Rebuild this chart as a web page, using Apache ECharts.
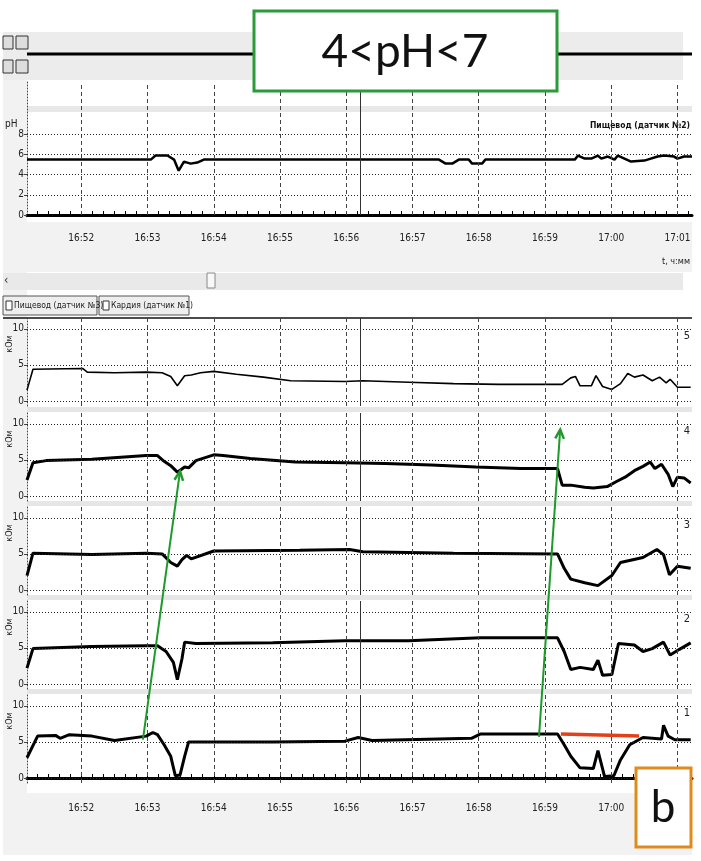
<!DOCTYPE html>
<html>
<head>
<meta charset="utf-8">
<script src="https://cdn.jsdelivr.net/npm/echarts@6/dist/echarts.min.js"></script>
<style>
html, body { margin: 0; padding: 0; background: #fff; }
#chart { width: 701px; height: 861px; }
</style>
</head>
<body>
<div id="chart"></div>
<script>
// time axis: minutes after 16:00
var minuteTicks = [52, 53, 54, 55, 56, 57, 58, 59, 60, 61];
var cursorTime = 56.21;

// pH, esophagus sensor 2
var phTime = [51.18, 53.05, 53.12, 53.3, 53.4, 53.47, 53.55, 53.65, 53.75, 53.85, 57.4, 57.5, 57.6, 57.7, 57.85, 57.9, 58.05, 58.1, 59.45, 59.5, 59.6, 59.7, 59.8, 59.85, 59.95, 60.05, 60.1, 60.2, 60.3, 60.5, 60.55, 60.7, 60.8, 60.95, 61.0, 61.1, 61.22];
var phValue = [5.5, 5.5, 5.9, 5.9, 5.5, 4.4, 5.3, 5.1, 5.2, 5.5, 5.5, 5.1, 5.1, 5.5, 5.5, 5.1, 5.1, 5.5, 5.5, 5.9, 5.6, 5.6, 5.9, 5.6, 5.8, 5.5, 5.9, 5.6, 5.3, 5.4, 5.5, 5.8, 5.9, 5.8, 5.6, 5.8, 5.8];

// impedance channels, kOhm (top to bottom: 5, 4, 3, 2, 1)
var ch5Time = [51.18, 51.27, 52.02, 52.09, 52.5, 52.98, 53.22, 53.35, 53.45, 53.56, 53.66, 53.8, 54.0, 54.34, 54.75, 55.16, 55.98, 56.25, 56.94, 57.62, 58.3, 59.26, 59.39, 59.46, 59.53, 59.7, 59.77, 59.87, 60.01, 60.14, 60.25, 60.35, 60.48, 60.62, 60.73, 60.83, 60.89, 61.0, 61.2];
var ch5Value = [1.5, 4.4, 4.5, 4.0, 3.9, 4.0, 3.9, 3.4, 2.1, 3.5, 3.6, 3.9, 4.1, 3.7, 3.3, 2.8, 2.7, 2.8, 2.6, 2.4, 2.3, 2.3, 3.2, 3.4, 2.1, 2.1, 3.5, 2.0, 1.6, 2.4, 3.8, 3.3, 3.6, 2.8, 3.3, 2.5, 3.0, 1.9, 1.9];

var ch4Time = [51.18, 51.27, 51.47, 52.16, 52.98, 53.15, 53.25, 53.35, 53.45, 53.56, 53.62, 53.73, 54.0, 54.14, 54.55, 55.23, 55.98, 56.59, 57.28, 57.96, 58.64, 59.19, 59.26, 59.39, 59.6, 59.73, 59.94, 60.08, 60.21, 60.35, 60.48, 60.59, 60.66, 60.76, 60.86, 60.93, 61.0, 61.1, 61.2];
var ch4Value = [2.2, 4.6, 4.9, 5.1, 5.6, 5.6, 4.8, 4.2, 3.3, 4.0, 3.9, 4.9, 5.7, 5.6, 5.2, 4.7, 4.6, 4.5, 4.3, 4.0, 3.8, 3.8, 1.5, 1.5, 1.2, 1.1, 1.3, 2.0, 2.6, 3.5, 4.1, 4.7, 3.8, 4.4, 3.0, 1.3, 2.6, 2.5, 1.8];

var ch3Time = [51.18, 51.27, 52.16, 52.98, 53.22, 53.35, 53.45, 53.52, 53.59, 53.66, 54.0, 55.3, 56.05, 56.25, 57.62, 59.19, 59.29, 59.39, 59.6, 59.8, 60.01, 60.14, 60.48, 60.69, 60.79, 60.88, 61.0, 61.2];
var ch3Value = [2.0, 5.1, 4.9, 5.1, 5.0, 3.8, 3.3, 4.2, 4.8, 4.3, 5.4, 5.5, 5.6, 5.3, 5.1, 5.0, 3.0, 1.5, 1.0, 0.6, 2.0, 3.8, 4.5, 5.6, 4.9, 2.1, 3.3, 3.0];

var ch2Time = [51.18, 51.27, 52.16, 52.98, 53.15, 53.28, 53.39, 53.45, 53.52, 53.56, 53.73, 54.89, 55.98, 56.94, 58.03, 59.19, 59.29, 59.39, 59.53, 59.73, 59.8, 59.87, 60.01, 60.11, 60.35, 60.48, 60.62, 60.79, 60.89, 61.03, 61.2];
var ch2Value = [2.2, 4.9, 5.2, 5.3, 5.3, 4.5, 3.0, 0.6, 3.5, 5.8, 5.6, 5.7, 6.0, 6.0, 6.4, 6.4, 4.5, 2.0, 2.3, 2.0, 3.3, 1.2, 1.3, 5.6, 5.4, 4.5, 4.9, 5.8, 4.0, 4.8, 5.7];

var ch1Time = [51.18, 51.34, 51.61, 51.68, 51.82, 52.16, 52.5, 52.98, 53.08, 53.15, 53.25, 53.35, 53.42, 53.49, 53.56, 53.62, 54.89, 55.98, 56.18, 56.39, 57.89, 58.03, 59.19, 59.29, 59.39, 59.53, 59.73, 59.8, 59.9, 60.04, 60.14, 60.28, 60.48, 60.76, 60.79, 60.86, 60.96, 61.2];
var ch1Value = [2.8, 5.8, 5.9, 5.5, 6.0, 5.8, 5.2, 5.8, 6.3, 6.0, 4.6, 3.0, 0.3, 0.4, 3.0, 5.0, 5.0, 5.1, 5.6, 5.2, 5.5, 6.1, 6.1, 4.6, 3.0, 1.4, 1.3, 3.8, 0.2, 0.3, 2.5, 4.6, 5.6, 5.4, 7.3, 5.8, 5.3, 5.3];

// reflux baseline marker on channel 1
var baseTime = [59.24, 60.42];
var baseValue = [6.1, 5.8];

var channelNames = ['5', '4', '3', '2', '1'];
var channelTime = [ch5Time, ch4Time, ch3Time, ch2Time, ch1Time];
var channelValue = [ch5Value, ch4Value, ch3Value, ch2Value, ch1Value];
var impTicks = [0, 5, 10];
var phTicks = [0, 2, 4, 6, 8];

function pairs(t, v) {
	var out = [];
	for (var i = 0; i < t.length; i++) out.push([t[i], v[i]]);
	return out;
}
function timeLabel(v) {
	var h = 16 + Math.floor(v / 60), m = Math.round(v % 60);
	return h + ':' + (m < 10 ? '0' + m : m);
}
var fineTicks = [];
for (var s = 51 * 6 + 2; s <= 61 * 6 + 1; s++) fineTicks.push(s / 6);

var FONT = 'DejaVu Sans Condensed, Liberation Sans, sans-serif';
var X0 = 51.18, X1 = 61.22;
var impTop = [318, 413, 507, 601, 695];

var chart = echarts.init(document.getElementById('chart'));
var grids = [], xAxes = [], yAxes = [], series = [];

function gridLines(xi, hlines) {
	var d = [];
	minuteTicks.forEach(function(m) { d.push({ xAxis: m }); });
	hlines.forEach(function(v) { d.push({ yAxis: v, lineStyle: { type: [1, 2], color: '#222' } }); });
	d.push({ xAxis: cursorTime, lineStyle: { type: 'solid', color: '#333', width: 1 } });
	return {
		type: 'line', xAxisIndex: xi, yAxisIndex: xi, data: [], silent: true,
		markLine: { symbol: 'none', silent: true, animation: false, label: { show: false },
			lineStyle: { type: [4, 3], color: '#444', width: 1 }, data: d }
	};
}

// pH grid
grids.push({ left: 27, right: 9, top: 82, height: 133 });
xAxes.push({ gridIndex: 0, type: 'value', min: X0, max: X1, offset: 6,
	axisLine: { lineStyle: { color: '#000', width: 3 } },
	axisTick: { inside: true, length: 4, customValues: fineTicks, lineStyle: { color: '#000' } },
	axisLabel: { customValues: minuteTicks, formatter: timeLabel, margin: 12, color: '#222', fontSize: 10, fontFamily: FONT },
	splitLine: { show: false } });
yAxes.push({ gridIndex: 0, type: 'value', min: 0, max: 13.2,
	axisLine: { show: true, lineStyle: { type: [1, 2], color: '#444' } },
	axisTick: { show: true, customValues: phTicks, length: 3 },
	axisLabel: { customValues: phTicks, color: '#222', fontSize: 10, fontFamily: FONT, margin: 3 },
	splitLine: { show: false } });
series.push(gridLines(0, [2, 4, 6, 8]));
series.push({ type: 'line', xAxisIndex: 0, yAxisIndex: 0, data: pairs(phTime, phValue), symbol: 'none',
	lineStyle: { color: '#000', width: 2.5 }, animation: false });

// impedance grids
for (var k = 0; k < 5; k++) {
	var gi = k + 1;
	grids.push({ left: 27, right: 9, top: impTop[k], height: 88 });
	xAxes.push({ gridIndex: gi, type: 'value', min: X0, max: X1, offset: 8,
		axisLine: { show: k === 4, lineStyle: { color: '#000', width: 3 } },
		axisTick: { show: k === 4, inside: true, length: 4, customValues: fineTicks, lineStyle: { color: '#000' } },
		axisLabel: { show: k === 4, customValues: minuteTicks, formatter: timeLabel, margin: 12, color: '#222', fontSize: 10, fontFamily: FONT },
		splitLine: { show: false } });
	yAxes.push({ gridIndex: gi, type: 'value', min: -0.7, max: 11.5,
		axisLine: { show: true, lineStyle: { type: [1, 2], color: '#444' } },
		axisTick: { show: true, customValues: impTicks, length: 3 },
		axisLabel: { customValues: impTicks, color: '#222', fontSize: 10, fontFamily: FONT, margin: 3 },
		splitLine: { show: false } });
	series.push(gridLines(gi, [0, 5, 10]));
	series.push({ type: 'line', xAxisIndex: gi, yAxisIndex: gi, data: pairs(channelTime[k], channelValue[k]), symbol: 'none',
		lineStyle: { color: '#000', width: k === 0 ? 1.6 : 3 }, animation: false });
}
series.push({ type: 'line', xAxisIndex: 5, yAxisIndex: 5, data: pairs(baseTime, baseValue), symbol: 'none',
	lineStyle: { color: '#e0401a', width: 3.5 }, z: 5, animation: false });

var graphics = [
	// grey frame areas
	{ type: 'rect', z: -1, shape: { x: 3, y: 32, width: 680, height: 48 }, style: { fill: '#ececec' } },
	{ type: 'rect', z: -1, shape: { x: 3, y: 106, width: 689, height: 6 }, style: { fill: '#e8e8e8' } },
	{ type: 'rect', z: -1, shape: { x: 3, y: 80, width: 24, height: 720 }, style: { fill: '#f2f2f2' } },
	{ type: 'rect', z: -1, shape: { x: 3, y: 222, width: 689, height: 50 }, style: { fill: '#f2f2f2' } },
	{ type: 'rect', z: -1, shape: { x: 3, y: 793, width: 689, height: 62 }, style: { fill: '#f2f2f2' } },
	{ type: 'line', z: 1, shape: { x1: 27, y1: 54, x2: 692, y2: 54 }, style: { stroke: '#000', lineWidth: 3 } },
	// toolbar buttons
	{ type: 'rect', shape: { x: 3, y: 36, width: 10, height: 13 }, style: { fill: '#ddd', stroke: '#333' } },
	{ type: 'rect', shape: { x: 16, y: 36, width: 12, height: 13 }, style: { fill: '#ddd', stroke: '#333' } },
	{ type: 'rect', shape: { x: 3, y: 60, width: 10, height: 13 }, style: { fill: '#ddd', stroke: '#333' } },
	{ type: 'rect', shape: { x: 16, y: 60, width: 12, height: 13 }, style: { fill: '#ddd', stroke: '#333' } },
	// scrollbar
	{ type: 'rect', shape: { x: 3, y: 273, width: 680, height: 17 }, style: { fill: '#e9e9e9' } },
	{ type: 'rect', shape: { x: 207, y: 273, width: 8, height: 15 }, style: { fill: '#f8f8f8', stroke: '#888' } },
	{ type: 'text', style: { x: 4, y: 281, text: '‹', font: '12px ' + FONT, fill: '#333', verticalAlign: 'middle' } },
	// sensor tabs
	{ type: 'rect', shape: { x: 3, y: 296, width: 94, height: 19 }, style: { fill: '#eee', stroke: '#555' } },
	{ type: 'rect', shape: { x: 99, y: 296, width: 90, height: 19 }, style: { fill: '#eee', stroke: '#555' } },
	{ type: 'rect', shape: { x: 6, y: 301, width: 6, height: 9 }, style: { fill: '#fff', stroke: '#333' } },
	{ type: 'rect', shape: { x: 103, y: 301, width: 6, height: 9 }, style: { fill: '#fff', stroke: '#333' } },
	{ type: 'text', style: { x: 14, y: 306, text: 'Пищевод (датчик №3)', font: '8.5px ' + FONT, fill: '#222', verticalAlign: 'middle' } },
	{ type: 'text', style: { x: 111, y: 306, text: 'Кардия (датчик №1)', font: '8.5px ' + FONT, fill: '#222', verticalAlign: 'middle' } },
	{ type: 'line', shape: { x1: 3, y1: 318, x2: 692, y2: 318 }, style: { stroke: '#111', lineWidth: 1.5 } },
	// pH texts
	{ type: 'text', style: { x: 5, y: 124, text: 'pH', font: '10px ' + FONT, fill: '#222', verticalAlign: 'middle' } },
	{ type: 'text', style: { x: 690, y: 126, text: 'Пищевод (датчик №2)', font: 'bold 8.5px ' + FONT, fill: '#111', align: 'right', verticalAlign: 'middle' } },
	{ type: 'text', style: { x: 690, y: 262, text: 't, ч:мм', font: '9px ' + FONT, fill: '#222', align: 'right', verticalAlign: 'middle' } },
	// title box
	{ type: 'rect', z: 10, shape: { x: 254, y: 11, width: 303, height: 80 }, style: { fill: '#fff', stroke: '#2a9a3a', lineWidth: 3 } },
	{ type: 'text', z: 11, style: { x: 405, y: 52, text: '4<pH<7', font: '46px Lato, sans-serif', fill: '#111', align: 'center', verticalAlign: 'middle' } },
	// panel label
	{ type: 'rect', z: 10, shape: { x: 636, y: 768, width: 55, height: 79 }, style: { fill: '#fff', stroke: '#e08a1c', lineWidth: 3 } },
	{ type: 'text', z: 11, style: { x: 663, y: 808, text: 'b', font: '44px Lato, sans-serif', fill: '#111', align: 'center', verticalAlign: 'middle' } }
];
for (var k2 = 0; k2 < 5; k2++) {
	var t0 = impTop[k2];
	if (k2 > 0) graphics.push({ type: 'rect', z: -1, shape: { x: 27, y: t0 - 6, width: 665, height: 5 }, style: { fill: '#e6e6e6' } });
	graphics.push({ type: 'text', x: 10, y: t0 + 26, rotation: Math.PI / 2, style: { x: 0, y: 0, text: 'кОм', font: '9px ' + FONT, fill: '#222', align: 'center', verticalAlign: 'middle' } });
	graphics.push({ type: 'text', style: { x: 690, y: t0 + 18, text: channelNames[k2], font: '11px ' + FONT, fill: '#222', align: 'right', verticalAlign: 'middle' } });
}

chart.setOption({
	backgroundColor: '#fff',
	animation: false,
	grid: grids, xAxis: xAxes, yAxis: yAxes, series: series,
	graphic: graphics
});

// green arrows from channel 1 to channel 4, placed by data coordinates
function px(gi, t, v) { return chart.convertToPixel({ xAxisIndex: gi, yAxisIndex: gi }, [t, v]); }
var arrowSpec = [[[52.93, 5.3], [53.49, 3.4]], [[58.91, 5.7], [59.23, 9.2]]];
var arrows = [];
arrowSpec.forEach(function(a) {
	var p0 = px(5, a[0][0], a[0][1]), p1 = px(2, a[1][0], a[1][1]);
	var ang = Math.atan2(p1[1] - p0[1], p1[0] - p0[0]), L = 10, w = 0.45;
	arrows.push({ type: 'line', z: 6, shape: { x1: p0[0], y1: p0[1], x2: p1[0], y2: p1[1] }, style: { stroke: '#1e9a2a', lineWidth: 2 } });
	arrows.push({ type: 'polyline', z: 6, shape: { points: [
		[p1[0] - L * Math.cos(ang - w), p1[1] - L * Math.sin(ang - w)], p1,
		[p1[0] - L * Math.cos(ang + w), p1[1] - L * Math.sin(ang + w)]] },
		style: { stroke: '#1e9a2a', lineWidth: 2.5, fill: null } });
});
chart.setOption({ graphic: graphics.concat(arrows) });
</script>
</body>
</html>
